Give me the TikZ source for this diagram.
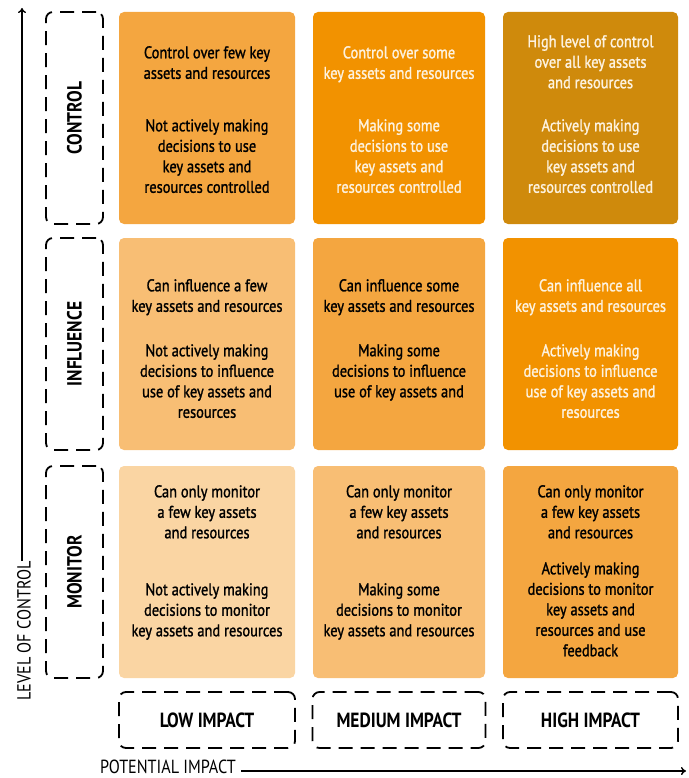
\documentclass[tikz,border=0pt]{standalone}
\usepackage{fontspec}
\setmainfont{PT Sans}[FakeStretch=0.85]
\newfontfamily\cellfont{PT Sans}[FakeStretch=0.85, FakeBold=1.3]
\newfontfamily\labelfont{PT Sans}[FakeStretch=0.85, UprightFont=*-Bold]
\usetikzlibrary{arrows.meta}
\definecolor{orA}{HTML}{F29200}
\definecolor{orB}{HTML}{F4A640}
\definecolor{orC}{HTML}{F8BE74}
\definecolor{orD}{HTML}{FAD5A3}
\definecolor{gold}{HTML}{CF8A0C}
\definecolor{cream}{HTML}{FDF2DF}
\tikzset{
  cellbox/.style={rounded corners=5pt, draw=none, inner sep=0},
  celltext/.style={font=\cellfont\fontsize{17}{20.5}\selectfont, align=center, anchor=north, inner sep=0},
  dashbox/.style={draw=black, line width=1.8pt, dash pattern=on 14pt off 8pt, rounded corners=7pt, inner sep=0},
  rowlabel/.style={font=\labelfont\fontsize{20.5}{22}\selectfont, rotate=90, inner sep=0},
  collabel/.style={font=\labelfont\fontsize{20.5}{22}\selectfont, inner sep=0},
  axislabel/.style={font=\fontsize{19}{20}\selectfont, inner sep=0},
  axis/.style={line width=1.4pt, -{To[length=5pt,width=8pt]}}
}
\begin{document}
\begin{tikzpicture}[x=1pt, y=-1pt]
\useasboundingbox (0,0) rectangle (688,778);

% axes
\coordinate (vbot) at (22,561);
\coordinate (vtop) at (22,8);
\draw[axis] (vbot) -- (vtop);
\node[axislabel, rotate=90] (vlabel) at (24,631) {LEVEL OF CONTROL};
\coordinate (hleft) at (241,771);
\coordinate (hright) at (686,771);
\draw[axis] (hleft) -- (hright);
\node[axislabel] (hlabel) at (168,767) {POTENTIAL IMPACT};

% row labels
\node[dashbox, minimum width=57pt, minimum height=212pt] (rcontrol) at (74.5,118) {};
\node[rowlabel] (lcontrol) at (rcontrol) {CONTROL};
\node[dashbox, minimum width=57pt, minimum height=212pt] (rinfluence) at (74.5,344) {};
\node[rowlabel] (linfluence) at (rinfluence) {INFLUENCE};
\node[dashbox, minimum width=57pt, minimum height=212pt] (rmonitor) at (74.5,572) {};
\node[rowlabel] (lmonitor) at (rmonitor) {MONITOR};

% column labels
\node[dashbox, minimum width=176pt, minimum height=56pt] (clow) at (207,720) {};
\node[collabel] (llow) at (clow) {LOW IMPACT};
\node[dashbox, minimum width=173pt, minimum height=56pt] (cmed) at (399,720) {};
\node[collabel] (lmed) at (cmed) {MEDIUM IMPACT};
\node[dashbox, minimum width=175pt, minimum height=56pt] (chigh) at (590.5,720) {};
\node[collabel] (lhigh) at (chigh) {HIGH IMPACT};

% matrix cells
\node[cellbox, fill=orB, minimum width=176pt, minimum height=212pt] (c11) at (207,118) {};
\node[cellbox, fill=orA, minimum width=172pt, minimum height=212pt] (c12) at (399,118) {};
\node[cellbox, fill=gold, minimum width=175pt, minimum height=212pt] (c13) at (590.5,118) {};
\node[cellbox, fill=orC, minimum width=176pt, minimum height=212pt] (c21) at (207,344) {};
\node[cellbox, fill=orB, minimum width=172pt, minimum height=212pt] (c22) at (399,344) {};
\node[cellbox, fill=orA, minimum width=175pt, minimum height=212pt] (c23) at (590.5,344) {};
\node[cellbox, fill=orD, minimum width=176pt, minimum height=212pt] (c31) at (207,572) {};
\node[cellbox, fill=orC, minimum width=172pt, minimum height=212pt] (c32) at (399,572) {};
\node[cellbox, fill=orB, minimum width=175pt, minimum height=212pt] (c33) at (590.5,572) {};

% cell texts: row CONTROL
\node[celltext] (t11a) at (207,46) {Control over few key\\assets and resources};
\node[celltext] (t11b) at (207,119) {Not actively making\\decisions to use\\key assets and\\resources controlled};
\node[celltext, text=cream] (t12a) at (399,46) {Control over some\\key assets and resources};
\node[celltext, text=cream] (t12b) at (399,119) {Making some\\decisions to use\\key assets and\\resources controlled};
\node[celltext, text=cream] (t13a) at (590.5,35) {High level of control\\over all key assets\\and resources};
\node[celltext, text=cream] (t13b) at (590.5,119) {Actively making\\decisions to use\\key assets and\\resources controlled};

% cell texts: row INFLUENCE
\node[celltext] (t21a) at (207,279) {Can influence a few\\key assets and resources};
\node[celltext] (t21b) at (207,344) {Not actively making\\decisions to influence\\use of key assets and\\resources};
\node[celltext] (t22a) at (399,279) {Can influence some\\key assets and resources};
\node[celltext] (t22b) at (399,344) {Making some\\decisions to influence\\use of key assets and};
\node[celltext, text=cream] (t23a) at (590.5,279) {Can influence all\\key assets and resources};
\node[celltext, text=cream] (t23b) at (590.5,344) {Actively making\\decisions to influence\\use of key assets and\\resources};

% cell texts: row MONITOR
\node[celltext] (t31a) at (207,485) {Can only monitor\\a few key assets\\and resources};
\node[celltext] (t31b) at (207,583) {Not actively making\\decisions to monitor\\key assets and resources};
\node[celltext] (t32a) at (399,485) {Can only monitor\\a few key assets\\and resources};
\node[celltext] (t32b) at (399,583) {Making some\\decisions to monitor\\key assets and resources};
\node[celltext] (t33a) at (590.5,485) {Can only monitor\\a few key assets\\and resources};
\node[celltext] (t33b) at (590.5,562) {Actively making\\decisions to monitor\\key assets and\\resources and use\\feedback};
\end{tikzpicture}
\end{document}
